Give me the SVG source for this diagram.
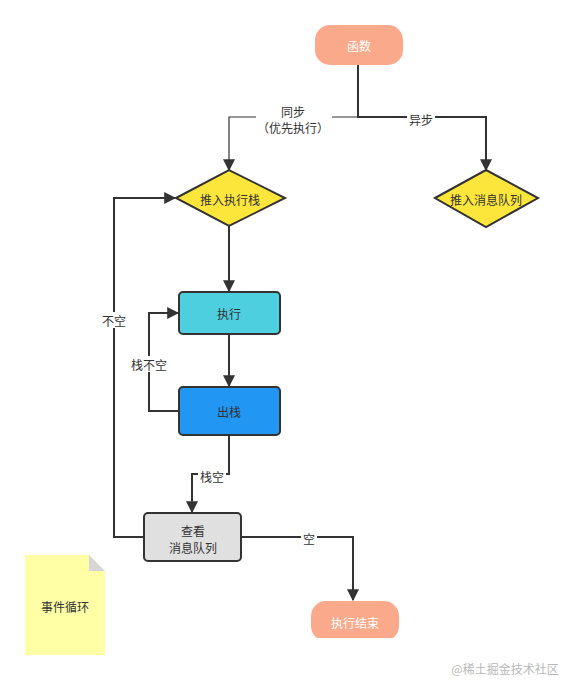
<svg xmlns="http://www.w3.org/2000/svg" width="562" height="680" viewBox="0 0 562 680">
<defs>
<style>
text{font-family:"Noto Sans CJK SC","Noto Sans",sans-serif;font-size:12px;fill:#333;text-anchor:middle;dominant-baseline:central}
.c{fill:none;stroke:#333;stroke-width:2}
.t{fill:none;stroke:#333;stroke-width:1.2}
.lb{fill:#fff}
.box{stroke:#333;stroke-width:2}
</style>
<marker id="ah" viewBox="0 0 10 10" refX="9" refY="5" markerWidth="6" markerHeight="6" orient="auto" markerUnits="strokeWidth"><path d="M0,0 L10,5 L0,10 z" fill="#333"/></marker>
<marker id="ah2" viewBox="0 0 10 10" refX="9" refY="5" markerWidth="10" markerHeight="10" orient="auto" markerUnits="strokeWidth"><path d="M0,0 L10,5 L0,10 z" fill="#333"/></marker>
<clipPath id="cut"><rect x="0" y="0" width="562" height="638"/></clipPath>
</defs>
<rect width="562" height="680" fill="#fff"/>
<g id="connectors">
<path class="c" d="M358,65 V117 H486 V170" marker-end="url(#ah)"/>
<path class="t" d="M358,117 H229 V170" marker-end="url(#ah2)"/>
<path class="c" d="M229,226 V291" marker-end="url(#ah)"/>
<path class="c" d="M229,334 V386" marker-end="url(#ah)"/>
<path class="c" d="M179,411 H149 V313 H178" marker-end="url(#ah)"/>
<path class="c" d="M229,435 V474 H192 V512" marker-end="url(#ah)"/>
<path class="c" d="M144,537 H114 V198 H175" marker-end="url(#ah)"/>
<path class="c" d="M241,537 H353 V600" marker-end="url(#ah)"/>
<rect class="lb" x="256" y="100" width="76" height="36"/>
<text x="293" y="111">同步</text>
<text x="293" y="127">（优先执行）</text>
<rect class="lb" x="407" y="111" width="28" height="16"/>
<text x="421" y="119">异步</text>
<rect class="lb" x="129" y="356" width="40" height="16"/>
<text x="149" y="364">栈不空</text>
<rect class="lb" x="198" y="468" width="28" height="16"/>
<text x="212" y="476">栈空</text>
<rect class="lb" x="100" y="312" width="28" height="16"/>
<text x="114" y="320">不空</text>
<rect class="lb" x="301" y="530" width="16" height="16"/>
<text x="309" y="538">空</text>
</g>
<g id="start">
<rect x="315" y="25" width="88" height="40" rx="15" fill="#FAA98B"/>
<text x="359" y="45" style="fill:#fff">函数</text>
</g>
<g id="push-stack">
<polygon points="176,198 229,170 285,198 229,226" class="box" style="fill:#FDE63C"/>
<text x="230" y="199">推入执行栈</text>
</g>
<g id="push-queue">
<polygon points="435,198 486,170 538,198 486,227" class="box" style="fill:#FDE63C"/>
<text x="486" y="199">推入消息队列</text>
</g>
<g id="exec">
<rect x="179" y="292" width="101" height="42" rx="4" class="box" fill="#4ECFE0"/>
<text x="229" y="313">执行</text>
</g>
<g id="pop">
<rect x="179" y="387" width="101" height="48" rx="4" class="box" fill="#2196F3"/>
<text x="229" y="411">出栈</text>
</g>
<g id="check-queue">
<rect x="144" y="513" width="97" height="48" rx="4" class="box" fill="#E0E0E0"/>
<text x="193" y="530">查看</text>
<text x="193" y="547">消息队列</text>
</g>
<g id="end" clip-path="url(#cut)">
<rect x="311" y="601" width="88" height="40" rx="15" fill="#FAA98B"/>
<text x="355" y="622" style="fill:#fff">执行结束</text>
</g>
<g id="note">
<path d="M25,555 H89 L105,571 V655 H25 Z" fill="#FFFFA6"/>
<path d="M89,555 V571 H105 Z" fill="#D6D6D6"/>
<text x="65" y="606">事件循环</text>
</g>
<text x="505" y="668" style="font-size:12px;fill:#b8b8b8">@稀土掘金技术社区</text>
</svg>
